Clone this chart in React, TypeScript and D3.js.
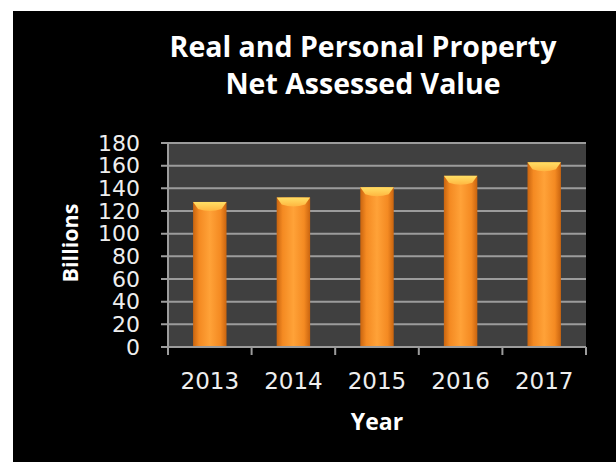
import * as d3 from 'd3';

const years = ['2013', '2014', '2015', '2016', '2017'];
const values = [128, 132, 141, 151, 163]; // billions
const yTicks = [0, 20, 40, 60, 80, 100, 120, 140, 160, 180];
const titleLines = ['Real and Personal Property', 'Net Assessed Value'];

const W = 616;
const H = 462;
const margin = { top: 143, right: 30, bottom: 115, left: 168 };

export default function App() {
  const x = d3
    .scaleBand<string>()
    .domain(years)
    .range([margin.left, W - margin.right])
    .paddingInner(0.6)
    .paddingOuter(0.3);
  const y = d3
    .scaleLinear()
    .domain([0, 180])
    .range([H - margin.bottom, margin.top]);

  const step = x.step();
  const x0 = margin.left;
  const x1 = W - margin.right;
  const bw = x.bandwidth();

  return (
    <svg
      width={W}
      height={H}
      style={{ position: 'absolute', left: 0, top: 0, background: '#fff' }}
    >
      <defs>
        <linearGradient id="barGrad" x1="0" x2="1" y1="0" y2="0">
          <stop offset="0%" stopColor="#c9640f" />
          <stop offset="18%" stopColor="#f48a22" />
          <stop offset="50%" stopColor="#ffa238" />
          <stop offset="82%" stopColor="#f48a22" />
          <stop offset="100%" stopColor="#c9640f" />
        </linearGradient>
        <linearGradient id="capGrad" x1="0" x2="0" y1="0" y2="1">
          <stop offset="0%" stopColor="#ffe066" />
          <stop offset="100%" stopColor="#ffb640" />
        </linearGradient>
      </defs>
      <rect x={13} y={11} width={W - 13} height={H - 11} fill="#000" />

      {/* Title */}
      <text
        textAnchor="middle"
        fill="#fff"
        fontFamily="'Open Sans', sans-serif"
        fontWeight="bold"
        fontSize={28.5}
      >
        {titleLines.map((t, i) => (
          <tspan key={t} x={363} y={57 + i * 37}>
            {t}
          </tspan>
        ))}
      </text>

      {/* Plot background */}
      <rect
        x={x0}
        y={y(180)}
        width={x1 - x0}
        height={y(0) - y(180)}
        fill="#404040"
      />

      {/* Gridlines */}
      {yTicks.map((t) => (
        <line
          key={t}
          x1={x0 - 7}
          x2={x1}
          y1={y(t)}
          y2={y(t)}
          stroke="#9c9c9c"
          strokeWidth={2}
        />
      ))}

      {/* Bars */}
      {years.map((yr, i) => {
        const bx = x(yr)!;
        const top = y(values[i]);
        return (
          <g key={yr}>
            <rect
              x={bx}
              y={top}
              width={bw}
              height={y(0) - top}
              fill="url(#barGrad)"
            />
            <path
              d={`M${bx},${top} L${bx + bw},${top} L${bx + bw - 5},${top + 7} Q${bx + bw / 2},${top + 11} ${bx + 5},${top + 7} Z`}
              fill="url(#capGrad)"
            />
          </g>
        );
      })}

      {/* Axes */}
      <line x1={x0} x2={x0} y1={y(180)} y2={y(0)} stroke="#9c9c9c" strokeWidth={2} />
      <line x1={x0} x2={x1} y1={y(0)} y2={y(0)} stroke="#9c9c9c" strokeWidth={2} />
      {d3.range(years.length + 1).map((i) => (
        <line
          key={i}
          x1={x0 + i * step}
          x2={x0 + i * step}
          y1={y(0)}
          y2={y(0) + 8}
          stroke="#9c9c9c"
          strokeWidth={2}
        />
      ))}

      {/* Y tick labels */}
      {yTicks.map((t) => (
        <text
          key={t}
          x={140}
          y={y(t) + 7.5}
          textAnchor="end"
          fill="#eee"
          fontFamily="'DejaVu Sans', sans-serif"
          fontSize={22}
        >
          {t}
        </text>
      ))}

      {/* X tick labels */}
      {years.map((yr) => (
        <text
          key={yr}
          x={x(yr)! + bw / 2}
          y={389}
          textAnchor="middle"
          fill="#eee"
          fontFamily="'DejaVu Sans', sans-serif"
          fontSize={23}
        >
          {yr}
        </text>
      ))}

      {/* Axis titles */}
      <text
        x={377}
        y={430}
        textAnchor="middle"
        fill="#fff"
        fontFamily="'Open Sans', sans-serif"
        fontWeight="bold"
        fontSize={23}
      >
        Year
      </text>
      <text
        transform={`translate(78,243) rotate(-90)`}
        textAnchor="middle"
        fill="#fff"
        fontFamily="'Open Sans', sans-serif"
        fontWeight="bold"
        fontSize={21.5}
      >
        Billions
      </text>
    </svg>
  );
}
